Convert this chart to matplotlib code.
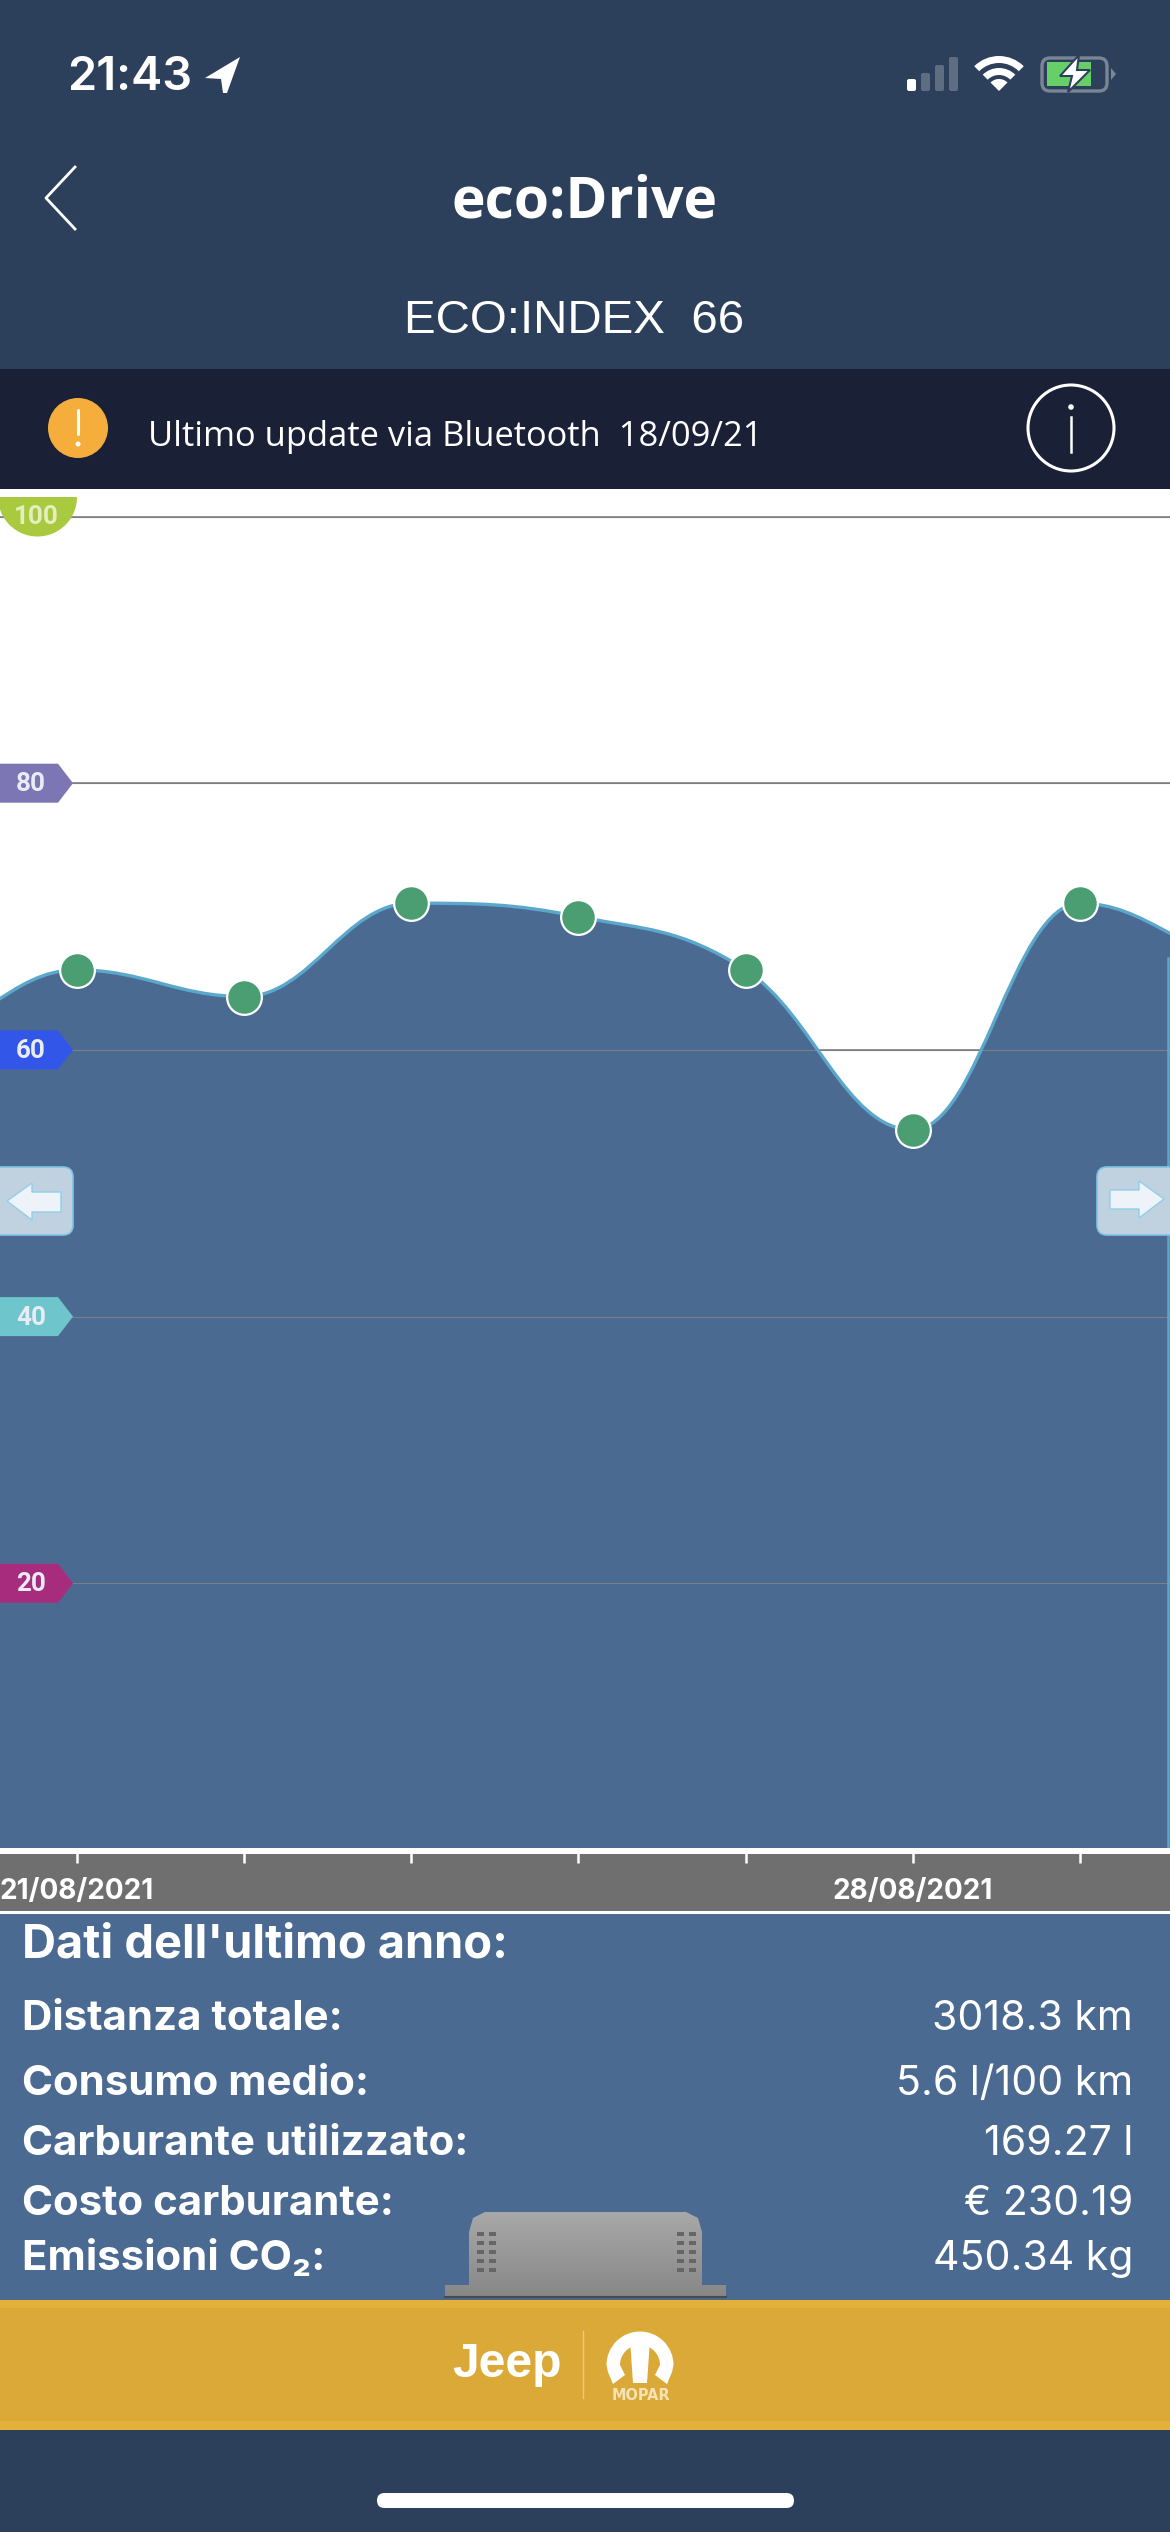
import numpy as np
import matplotlib
matplotlib.use('Agg')
import matplotlib.pyplot as plt
from matplotlib.patches import Rectangle, Circle, Polygon, FancyBboxPatch, PathPatch, Wedge
from matplotlib.colors import LinearSegmentedColormap
from matplotlib.path import Path

W, H = 1170, 2532

# dati del grafico
date_labels = ['21/08/2021', '', '', '', '', '28/08/2021', '']
eco_values = [66, 64, 71, 70, 66, 54, 71]
# punti fuori schermo, servono solo per la curva ai bordi
prev_value = 61
next_value = 67
grid_values = [100, 80, 60, 40, 20]
badge_colors = ['#a9c93e', '#7d76b5', '#3257e8', '#6fc5cc', '#a82c7e']

stat_names = ['Distanza totale:', 'Consumo medio:', 'Carburante utilizzato:',
              'Costo carburante:', 'Emissioni CO\u2082:']
stat_values = ['3018.3 km', '5.6 l/100 km', '169.27 l', '\u20ac 230.19', '450.34 kg']
stat_rows = [2017, 2082, 2142, 2202, 2257]

NAVY = '#2d405b'
DARK = '#1a2035'
BLUE = '#4b6a92'
LINE = '#5ba8cc'
GREEN = '#4a9e72'
YELLOW = '#dba938'
YELLOW2 = '#e3b03a'
GREY_ICON = '#5e6d80'


def fs(px):
    # altezza em in pixel -> punti
    return px * 0.72


def spline_path(xs, ys):
    # curva tipo highcharts: punti di controllo allineati sul punto
    k = 1.5
    left, right = [], []
    for i in range(1, len(xs) - 1):
        x, y = xs[i], ys[i]
        lx, ly = xs[i - 1], ys[i - 1]
        nx, ny = xs[i + 1], ys[i + 1]
        lcx, lcy = (k * x + lx) / (k + 1), (k * y + ly) / (k + 1)
        rcx, rcy = (k * x + nx) / (k + 1), (k * y + ny) / (k + 1)
        c = (rcy - lcy) * (rcx - x) / (rcx - lcx) + y - rcy
        lcy += c
        rcy += c
        if lcy > ly and lcy > y:
            lcy = max(ly, y)
            rcy = 2 * y - lcy
        elif lcy < ly and lcy < y:
            lcy = min(ly, y)
            rcy = 2 * y - lcy
        if rcy > ny and rcy > y:
            rcy = max(ny, y)
            lcy = 2 * y - rcy
        elif rcy < ny and rcy < y:
            rcy = min(ny, y)
            lcy = 2 * y - rcy
        left.append((lcx, lcy))
        right.append((rcx, rcy))
    verts = [(xs[1], ys[1])]
    codes = [Path.MOVETO]
    for i in range(len(left) - 1):
        verts += [right[i], left[i + 1], (xs[i + 2], ys[i + 2])]
        codes += [Path.CURVE4] * 3
    return verts, codes


fig = plt.figure(figsize=(W / 100, H / 100), dpi=100, facecolor=NAVY)

# sfondo in coordinate pixel
bg = fig.add_axes([0, 0, 1, 1], zorder=0)
bg.set_xlim(0, W)
bg.set_ylim(H, 0)
bg.axis('off')

bg.add_patch(Rectangle((0, 369), W, 120, color=DARK, lw=0))
bg.add_patch(Rectangle((0, 489), W, 1365, color='white', lw=0))
bg.add_patch(Rectangle((0, 1854), W, 57, color='#6f6f6f', lw=0))
bg.add_patch(Rectangle((0, 1911), W, 3, color='white', lw=0))
bg.add_patch(Rectangle((0, 1914), W, 386, color=BLUE, lw=0))
bg.add_patch(Rectangle((0, 2300), W, 130, color=YELLOW2, lw=0))
bg.add_patch(Rectangle((0, 2308), W, 113, color=YELLOW, lw=0))
bg.add_patch(FancyBboxPatch((377, 2493), 417, 15, boxstyle='round,pad=0,rounding_size=7.5',
                            color='white', lw=0))

# barra di stato
bg.text(67, 78, '21:43', color='white', fontsize=fs(47), family='Inter',
        fontweight='semibold', va='center', ha='left')
bg.add_patch(Polygon([(240, 57), (205, 78), (221, 79), (223, 93), (227, 93)], color='white', lw=0))
for x, h, c in zip([907, 921, 935, 949], [12, 18, 26, 34], ['white', GREY_ICON, GREY_ICON, GREY_ICON]):
    bg.add_patch(FancyBboxPatch((x, 91 - h), 9, h, boxstyle='round,pad=0,rounding_size=2', color=c, lw=0))
for r in [35, 23]:
    bg.add_patch(Wedge((999, 91), r, 225, 315, width=7, color='white', lw=0))
bg.add_patch(Wedge((999, 91), 12, 225, 315, color='white', lw=0))
bg.add_patch(FancyBboxPatch((1042, 58), 65, 33, boxstyle='round,pad=0,rounding_size=8',
                            fc='none', ec='#7a8696', lw=2.4))
bg.add_patch(Rectangle((1047, 62), 44, 24, color='#66cf68', lw=0))
bg.add_patch(Polygon([(1111, 68), (1116, 74), (1111, 80)], color='#7a8696', lw=0))
bg.add_patch(Polygon([(1079, 55), (1060, 76), (1072, 76), (1068, 92), (1090, 70), (1077, 70)],
                     fc='white', ec=NAVY, lw=1.5))

# intestazione
bg.plot([75, 46, 75], [167, 198, 229], color='white', lw=2.0)
bg.text(585, 203, 'eco:Drive', color='white', fontsize=fs(57), family='Open Sans',
        fontweight='bold', ha='center', va='center')
bg.text(574, 321, 'ECO:INDEX  66', color='white', fontsize=fs(47.5), family='Liberation Sans',
        ha='center', va='center')

# barra update
bg.add_patch(Circle((78, 428), 30, color='#f5ae3c', lw=0))
bg.plot([78, 78], [410, 434], color='white', lw=2.2, solid_capstyle='round')
bg.add_patch(Circle((78, 444), 2.5, color='white', lw=0))
bg.text(148, 437, 'Ultimo update via Bluetooth  18/09/21', color='white', fontsize=fs(34.5),
        family='Open Sans', ha='left', va='center')
bg.add_patch(Circle((1071, 428), 43, fc='none', ec='white', lw=2.2))
bg.plot([1071, 1071], [417, 452], color='white', lw=1.8)
bg.add_patch(Circle((1071, 407), 2.8, color='white', lw=0))

# grafico: asse con i dati
PX_PER_UNIT = 266.7 / 20
X0, DX = 76.7, 167.2
chart = fig.add_axes([0, 1 - 1850 / H, 1, (1850 - 489) / H], zorder=1)
chart.patch.set_alpha(0)
chart.set_xlim(-X0 / DX, (W - X0) / DX)
chart.set_ylim(0, (1850 - 489) / PX_PER_UNIT)
for s in chart.spines.values():
    s.set_visible(False)
days = np.arange(len(eco_values))

xs = [days[0] - 1] + list(days) + [days[-1] + 1]
ys = [prev_value] + eco_values + [next_value]
# serve un punto in piu per avere i controlli fino ai bordi
verts, codes = spline_path([xs[0] - 1] + xs + [xs[-1] + 1], [prev_value] + ys + [next_value])
area_verts = verts + [(verts[-1][0], 0), (verts[0][0], 0), (verts[0][0], 0)]
area_codes = codes + [Path.LINETO, Path.LINETO, Path.CLOSEPOLY]
for v in grid_values:
    chart.axhline(v, color='#939393', lw=1.4, zorder=0)
    chart.axhline(v, color='#7e7f84', lw=0.8, zorder=2)
chart.add_patch(PathPatch(Path(area_verts, area_codes), fc=BLUE, ec='none', zorder=1))
chart.add_patch(PathPatch(Path(verts, codes), fc='none', ec=LINE, lw=2.4, zorder=3))
chart.plot(days, eco_values, 'o', ms=25, mfc=GREEN, mec='white', mew=1.6, zorder=4, clip_on=False)
chart.set_xticks(days)
chart.set_xticklabels(date_labels, color='white', fontsize=fs(28), family='Inter', fontweight='bold')
chart.tick_params(axis='x', direction='out', length=9, width=1.8, color='white', pad=11)
chart.set_yticks([])

# linea azzurra sul bordo destro
chart.plot([chart.get_xlim()[1] - 2 / DX] * 2, [0, (1850 - 958) / PX_PER_UNIT], color=LINE, lw=1.8,
           zorder=3)

# overlay con etichette e pulsanti
ui = fig.add_axes([0, 0, 1, 1], zorder=2)
ui.set_xlim(0, W)
ui.set_ylim(H, 0)
ui.axis('off')

# striscia bianca sotto l'area
ui.add_patch(Rectangle((0, 1848), W, 6, color='white', lw=0))

for v, c in zip(grid_values, badge_colors):
    y = 1850 - v * PX_PER_UNIT
    if v == 100:
        ui.add_patch(Wedge((37.5, 497), 39.5, 0, 180, color=c, lw=0))
        ui.text(36, 517, '100', color='#e5eec0', fontsize=fs(26), family='Roboto', fontweight='bold',
                ha='center', va='center')
    else:
        ui.add_patch(Polygon([(0, y - 19.5), (58, y - 19.5), (73, y), (58, y + 19.5), (0, y + 19.5)],
                             color=c, lw=0))
        ui.text(31, y + 1, str(v), color='#e8ecf4', fontsize=fs(26), family='Roboto', fontweight='bold',
                ha='center', va='center')

# frecce
ui.add_patch(FancyBboxPatch((-20, 1167), 93, 68, boxstyle='round,pad=0,rounding_size=10',
                            fc='#c0d2e0', ec='#7fc4e4', lw=1.2))
ui.add_patch(Polygon([(7, 1201), (32, 1183), (32, 1192), (61, 1192), (61, 1212), (32, 1212), (32, 1220)],
                     fc='#eef3f9', ec='#8fd0ea', lw=1))
ui.add_patch(FancyBboxPatch((1097, 1167), 93, 68, boxstyle='round,pad=0,rounding_size=10',
                            fc='#c0d2e0', ec='#7fc4e4', lw=1.2))
ui.add_patch(Polygon([(1164, 1199), (1139, 1181), (1139, 1190), (1110, 1190), (1110, 1209), (1139, 1209),
                      (1139, 1218)], fc='#eef3f9', ec='#8fd0ea', lw=1))

# statistiche
ui.text(22, 1945, "Dati dell'ultimo anno:", color='white', fontsize=fs(47), family='Inter',
        fontweight='bold', va='center')
for name, val, y in zip(stat_names, stat_values, stat_rows):
    ui.text(22, y + 2, name, color='white', fontsize=fs(42), family='Inter', fontweight='bold',
            va='center')
    ui.text(1133, y + 2, val, color='white', fontsize=fs(41), family='Inter', ha='right', va='center')

# dispositivo grigio
grad = np.linspace(0, 1, 64).reshape(-1, 1)
body = Path([(445, 2298), (445, 2285), (469, 2285), (469, 2232), (473, 2218), (485, 2212),
             (686, 2212), (698, 2218), (702, 2232), (702, 2285), (726, 2285), (726, 2298), (445, 2298)])
im = ui.imshow(grad, extent=(445, 726, 2298, 2212), cmap=LinearSegmentedColormap.from_list(
    'g', ['#a8a8a8', '#878787']), aspect='auto', zorder=3)
clip = PathPatch(body, transform=ui.transData, fc='none', ec='none')
ui.add_patch(clip)
im.set_clip_path(clip)
ui.set_xlim(0, W)
ui.set_ylim(H, 0)
ui.plot([445, 726], [2297, 2297], color='#4a4a4a', lw=1.5, zorder=4)
for cx in [477, 489, 677, 689]:
    for cy in [2232, 2241, 2250, 2259, 2268]:
        ui.add_patch(Rectangle((cx, cy), 7, 4, color='#666666', lw=0, zorder=4))

# logo
ui.text(452, 2377, 'Jeep', color='white', fontsize=fs(48), family='Liberation Sans', fontweight='bold',
        ha='left', va='baseline')
ui.plot([583, 583], [2331, 2398], color='#ecca7c', lw=1)
ui.add_patch(Wedge((640, 2365), 33.5, 180, 360, width=13.5, color='white', lw=0))
ui.add_patch(Polygon([(606.5, 2365), (620, 2365), (625, 2375), (613, 2384), (608, 2372)], color='white', lw=0))
ui.add_patch(Polygon([(673.5, 2365), (660, 2365), (655, 2375), (667, 2384), (672, 2372)], color='white', lw=0))
ui.add_patch(Polygon([(630, 2340), (650, 2340), (647, 2383), (633, 2383)], color='white', lw=0))
ui.text(641, 2395, 'MOPAR', color='#f3e3b5', fontsize=fs(14.5), family='DejaVu Sans', fontweight='bold',
        ha='center', va='center')

fig.savefig('out.png', dpi=100, facecolor=fig.get_facecolor())
